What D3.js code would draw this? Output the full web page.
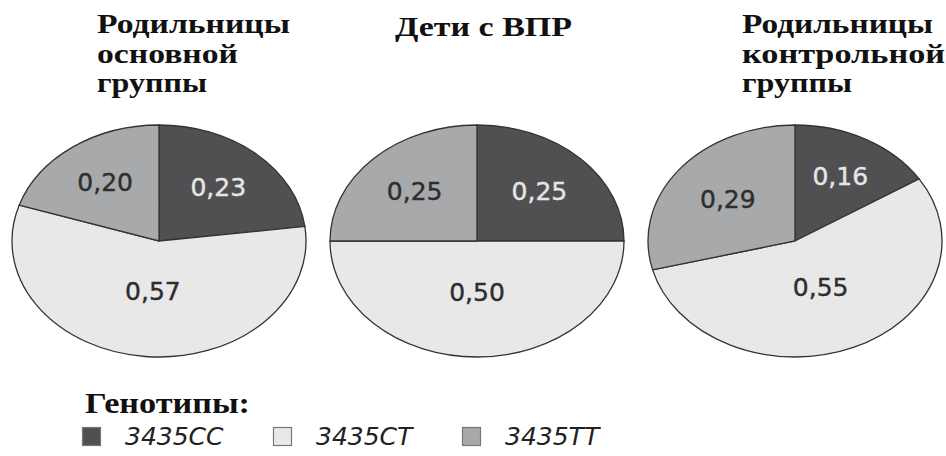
<!DOCTYPE html>
<html>
<head>
<meta charset="utf-8">
<script src="https://cdn.jsdelivr.net/npm/d3@7/dist/d3.min.js"></script>
<style>
  html, body { margin: 0; padding: 0; background: #ffffff; }
  svg { display: block; }
</style>
</head>
<body>
<svg id="chart" width="946" height="456"></svg>
<script>
// ---- data ----
const groups = ["Родильницы основной группы", "Дети с ВПР", "Родильницы контрольной группы"];
const titleLines = [
  ["Родильницы", "основной", "группы"],
  ["Дети с ВПР"],
  ["Родильницы", "контрольной", "группы"]
];
const genotypes = ["3435CC", "3435CT", "3435TT"];
const valuesMain = [0.23, 0.57, 0.20];
const valuesChildren = [0.25, 0.50, 0.25];
const valuesControl = [0.16, 0.55, 0.29];
const legendTitle = "Генотипы:";

const seriesByGroup = [valuesMain, valuesChildren, valuesControl];

// ---- styles ----
const colors = d3.scaleOrdinal().domain(genotypes).range(["#505052", "#e8e8e9", "#a8a9ab"]);
const labelColors = d3.scaleOrdinal().domain(genotypes).range(["#e6e6e6", "#2e2e2e", "#2e2e2e"]);
const locale = d3.formatLocale({decimal: ",", thousands: " ", grouping: [3], currency: ["", ""]});
const fmt = locale.format(".2f");

const svg = d3.select("#chart");

const x = d3.scaleBand().domain(groups).range([0, 954]).padding(0);
const cy = 241;
const rx = 147, ry = 116;
const sx = rx / ry;

const pie = d3.pie().sort(null).value(d => d.value);
const arc = d3.arc().innerRadius(0).outerRadius(ry);

function labelPos(d) {
  const a = (d.startAngle + d.endAngle) / 2, h = (d.endAngle - d.startAngle) / 2;
  const r = Math.max(0.44, 2 * Math.sin(h) / (3 * h)) * ry;
  return [Math.sin(a) * r * sx, -Math.cos(a) * r];
}

groups.forEach((g, gi) => {
  const cx = x(g) + x.bandwidth() / 2;
  const data = genotypes.map((k, i) => ({key: k, value: seriesByGroup[gi][i]}));
  const arcs = pie(data);

  const gp = svg.append("g").attr("transform", `translate(${cx},${cy}) scale(${sx},1)`);
  gp.selectAll("path").data(arcs).enter().append("path")
    .attr("d", arc)
    .attr("fill", d => colors(d.data.key))
    .attr("stroke", "#333333")
    .attr("stroke-width", 1.3)
    .attr("vector-effect", "non-scaling-stroke");

  const gl = svg.append("g").attr("transform", `translate(${cx},${cy})`);
  gl.selectAll("text").data(arcs).enter().append("text")
    .attr("x", d => labelPos(d)[0])
    .attr("y", d => labelPos(d)[1])
    .attr("text-anchor", "middle")
    .attr("dominant-baseline", "central")
    .attr("font-family", "DejaVu Sans, Verdana, sans-serif")
    .attr("font-size", 25)
    .attr("fill", d => labelColors(d.data.key))
    .attr("stroke", d => labelColors(d.data.key))
    .attr("stroke-width", 0.4)
    .text(d => fmt(d.data.value));
});

// ---- titles ----
const titleX = [97, 395, 742];
const titleY = [[33, 63, 92], [36], [33, 63, 92]];
const titleW = [[193, 141, 110], [177], [191, 203, 110]];
titleLines.forEach((lines, gi) => {
  lines.forEach((ln, li) => {
    svg.append("text")
      .attr("x", titleX[gi])
      .attr("y", titleY[gi][li])
      .attr("font-family", "Liberation Serif, Times New Roman, serif")
      .attr("font-weight", "bold")
      .attr("font-size", 27)
      .attr("textLength", titleW[gi][li])
      .attr("lengthAdjust", "spacingAndGlyphs")
      .attr("fill", "#111111")
      .text(ln);
  });
});

// ---- legend ----
svg.append("text")
  .attr("x", 85).attr("y", 413)
  .attr("font-family", "Liberation Serif, Times New Roman, serif")
  .attr("font-weight", "bold")
  .attr("font-size", 29)
  .attr("textLength", 165)
  .attr("lengthAdjust", "spacingAndGlyphs")
  .attr("fill", "#111111")
  .text(legendTitle);

const legendX = d3.scaleOrdinal().domain(genotypes).range([82, 273, 462]);
const lg = svg.append("g");
const items = lg.selectAll("g").data(genotypes).enter().append("g")
  .attr("transform", d => `translate(${legendX(d)},427)`);
items.append("rect")
  .attr("x", 0.5).attr("y", 0.5).attr("width", 18).attr("height", 18)
  .attr("fill", d => colors(d))
  .attr("stroke", "#777777").attr("stroke-width", 1.2);
items.append("text")
  .attr("x", 43).attr("y", 18)
  .attr("font-family", "DejaVu Sans, Verdana, sans-serif")
  .attr("font-style", "italic")
  .attr("font-size", 25)
  .attr("fill", "#222222")
  .text(d => d);
</script>
</body>
</html>
